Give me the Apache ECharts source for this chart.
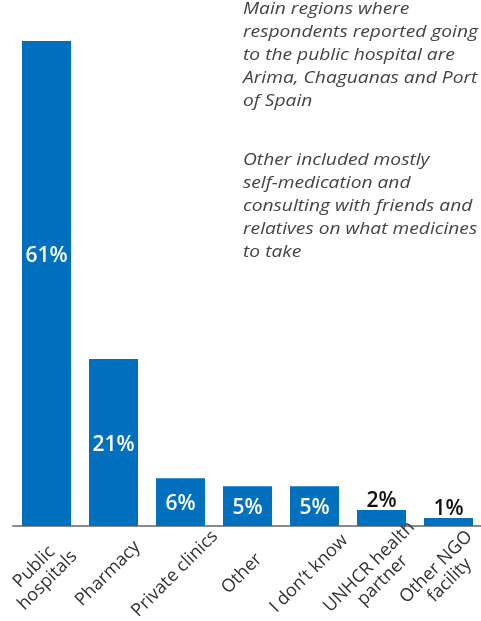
<!DOCTYPE html>
<html>
<head>
<meta charset="utf-8">
<script src="https://cdn.jsdelivr.net/npm/echarts@6/dist/echarts.min.js"></script>
<style>
html,body{margin:0;padding:0;background:#fff;}
#chart{width:481px;height:621px;}
</style>
</head>
<body>
<div id="chart"></div>
<script>
const categories = ['Public\nhospitals', 'Pharmacy', 'Private clinics', 'Other', "I don\u2019t know", 'UNHCR health\npartner', 'Other NGO\nfacility'];
const values = [61, 21, 6, 5, 5, 2, 1];
const note1 = ['Main regions where', 'respondents reported going', 'to the public hospital are', 'Arima, Chaguanas and Port', 'of Spain'];
const note2 = ['Other included mostly', 'self-medication and', 'consulting with friends and', 'relatives on what medicines', 'to take'];

const FONT = '"Open Sans", sans-serif';
const BLUE = '#0070BF';

const data = values.map((v, i) => {
  const inside = v >= 4;
  return {
    value: v,
    label: inside ? {
      position: 'inside',
      color: '#fff',
      offset: i === 0 ? [0, -27] : [0, 2]
    } : {
      position: 'top',
      color: '#111',
      distance: -1
    }
  };
});

const chart = echarts.init(document.getElementById('chart'), null, {renderer: 'canvas'});
chart.setOption({
  animation: false,
  grid: {left: 13, width: 469, top: 41, height: 485, outerBoundsMode: 'none', containLabel: false},
  xAxis: {
    type: 'category',
    data: categories,
    axisLine: {lineStyle: {color: '#8a8a8a', width: 2}},
    axisTick: {show: false},
    axisLabel: {
      rotate: 45,
      align: 'center',
      verticalAlign: 'middle',
      margin: 42,
      padding: [0, 16, 0, 0],
      interval: 0,
      color: '#333',
      fontFamily: FONT,
      fontSize: 18,
      lineHeight: 19
    }
  },
  yAxis: {type: 'value', min: 0, max: 61, show: false, splitLine: {show: false}},
  series: [{
    type: 'bar',
    data: data,
    barWidth: 49,
    itemStyle: {color: BLUE},
    label: {
      show: true,
      formatter: '{c}%',
      fontFamily: FONT,
      fontWeight: 600,
      fontSize: 21
    }
  }],
  graphic: [
    {type: 'text', x: 243, y: -2, scaleX: 1.2, style: {text: note1.join('\n'), font: 'italic 16px ' + FONT, fill: '#444', lineHeight: 23, verticalAlign: 'top'}},
    {type: 'text', x: 243, y: 148.5, scaleX: 1.2, style: {text: note2.join('\n'), font: 'italic 16px ' + FONT, fill: '#444', lineHeight: 23, verticalAlign: 'top'}}
  ]
});
</script>
</body>
</html>
